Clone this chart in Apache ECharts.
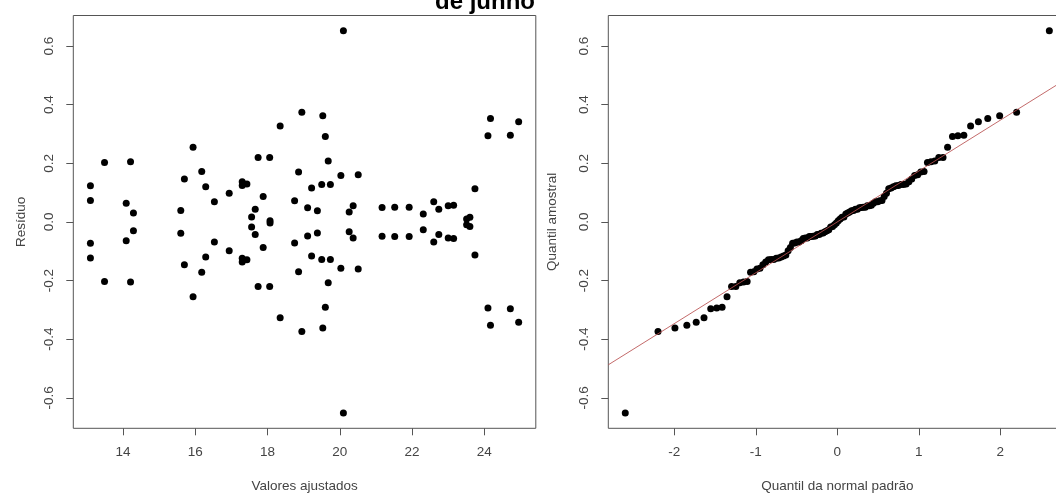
<!DOCTYPE html>
<html>
<head>
<meta charset="utf-8">
<script src="https://cdn.jsdelivr.net/npm/echarts@6/dist/echarts.min.js"></script>
<style>
  html, body { margin: 0; padding: 0; background: #fff; }
  #chart { width: 1056px; height: 493px; }
</style>
</head>
<body>
<div id="chart"></div>
<script>
// Fitted values and residuals of the model (paired observations share a fitted value)
const fitted = [
  13.10, 13.10, 13.10, 13.10, 13.49, 13.49, 14.09, 14.09, 14.21, 14.21,
  14.29, 14.29, 15.60, 15.60, 15.70, 15.70, 15.94, 15.94, 16.18, 16.18,
  16.29, 16.29, 16.53, 16.53, 16.94, 16.94, 17.30, 17.30, 17.30, 17.30,
  17.43, 17.43, 17.56, 17.56, 17.66, 17.66, 17.74, 17.74, 17.88, 17.88,
  18.06, 18.06, 18.07, 18.07, 18.35, 18.35, 18.75, 18.75, 18.86, 18.86,
  18.95, 18.95, 19.11, 19.11, 19.22, 19.22, 19.38, 19.38, 19.50, 19.50,
  19.53, 19.53, 19.60, 19.60, 19.68, 19.68, 19.74, 19.74, 20.03, 20.03,
  20.10, 20.10, 20.26, 20.26, 20.37, 20.37, 20.51, 20.51, 21.17, 21.17,
  21.52, 21.52, 21.92, 21.92, 22.31, 22.31, 22.60, 22.60, 22.74, 22.74,
  23.00, 23.00, 23.15, 23.15, 23.51, 23.51, 23.60, 23.60, 23.74, 23.74,
  24.10, 24.10, 24.17, 24.17, 24.72, 24.72, 24.95, 24.95
];
const residuals = [
  0.123, 0.073, -0.073, -0.123, 0.203, -0.203, 0.064, -0.064, 0.205, -0.205,
  0.030, -0.030, 0.039, -0.039, 0.146, -0.146, 0.255, -0.255, 0.172, -0.172,
  0.120, -0.120, 0.069, -0.069, 0.098, -0.098, 0.137, -0.137, 0.124, -0.124,
  0.129, -0.129, 0.017, -0.017, 0.043, -0.043, 0.220, -0.220, 0.087, -0.087,
  0.220, -0.220, 0.004, -0.004, 0.327, -0.327, 0.072, -0.072, 0.170, -0.170,
  0.374, -0.374, 0.048, -0.048, 0.116, -0.116, 0.038, -0.038, 0.128, -0.128,
  0.362, -0.362, 0.291, -0.291, 0.208, -0.208, 0.128, -0.128, 0.158, -0.158,
  0.652, -0.652, 0.034, -0.034, 0.055, -0.055, 0.161, -0.161, 0.049, -0.049,
  0.050, -0.050, 0.050, -0.050, 0.027, -0.027, 0.069, -0.069, 0.043, -0.043,
  0.055, -0.055, 0.057, -0.057, 0.010, -0.010, 0.016, -0.016, 0.113, -0.113,
  0.294, -0.294, 0.353, -0.353, 0.296, -0.296, 0.342, -0.342
];

// Tick labels
const fittedTicks = [14, 16, 18, 20, 22, 24];
const residTicks = [-0.6, -0.4, -0.2, 0.0, 0.2, 0.4, 0.6];
const normalTicks = [-2, -1, 0, 1, 2];

const titleText = 'de junho';
const xName1 = 'Valores ajustados';
const yName1 = 'Resíduo';
const xName2 = 'Quantil da normal padrão';
const yName2 = 'Quantil amostral';

// Inverse standard normal CDF (Acklam)
function qnorm(p) {
  const a = [-3.969683028665376e+01, 2.209460984245205e+02, -2.759285104469687e+02,
             1.383577518672690e+02, -3.066479806614716e+01, 2.506628277459239e+00];
  const b = [-5.447609879822406e+01, 1.615858368580409e+02, -1.556989798598866e+02,
             6.680131188771972e+01, -1.328068155288572e+01];
  const c = [-7.784894002430293e-03, -3.223964580411365e-01, -2.400758277161838e+00,
             -2.549732539343734e+00, 4.374664141464968e+00, 2.938163982698783e+00];
  const d = [7.784695709041462e-03, 3.224671290700398e-01, 2.445134137142996e+00,
             3.754408661907416e+00];
  const pl = 0.02425, ph = 1 - pl;
  let q, r;
  if (p < pl) {
    q = Math.sqrt(-2 * Math.log(p));
    return (((((c[0]*q+c[1])*q+c[2])*q+c[3])*q+c[4])*q+c[5]) /
           ((((d[0]*q+d[1])*q+d[2])*q+d[3])*q+1);
  }
  if (p <= ph) {
    q = p - 0.5; r = q * q;
    return (((((a[0]*r+a[1])*r+a[2])*r+a[3])*r+a[4])*r+a[5])*q /
           (((((b[0]*r+b[1])*r+b[2])*r+b[3])*r+b[4])*r+1);
  }
  q = Math.sqrt(-2 * Math.log(1 - p));
  return -(((((c[0]*q+c[1])*q+c[2])*q+c[3])*q+c[4])*q+c[5]) /
          ((((d[0]*q+d[1])*q+d[2])*q+d[3])*q+1);
}

// Sample quantile, type 7
function quantile(sorted, p) {
  const h = (sorted.length - 1) * p;
  const lo = Math.floor(h), hi = Math.ceil(h);
  return sorted[lo] + (h - lo) * (sorted[hi] - sorted[lo]);
}

// Axis range with 4% padding on each side
function padded(vals) {
  const lo = Math.min(...vals), hi = Math.max(...vals);
  const pad = 0.04 * (hi - lo);
  return [lo - pad, hi + pad];
}

// Normal Q-Q data
const n = residuals.length;
const aPP = n <= 10 ? 3 / 8 : 0.5;
const sortedRes = residuals.slice().sort((x, y) => x - y);
const theo = sortedRes.map((_, i) => qnorm((i + 1 - aPP) / (n + 1 - 2 * aPP)));
const qqData = sortedRes.map((v, i) => [theo[i], v]);

// Reference line through the first and third quartiles
const q1s = quantile(sortedRes, 0.25), q3s = quantile(sortedRes, 0.75);
const q1t = qnorm(0.25), q3t = qnorm(0.75);
const slope = (q3s - q1s) / (q3t - q1t);
const intercept = q1s - slope * q1t;

const xr1 = padded(fitted);
const yr = padded(residuals);
const xr2 = padded(theo);
const lineData = [[xr2[0], intercept + slope * xr2[0]], [xr2[1], intercept + slope * xr2[1]]];

const FONT = 'Liberation Sans, Arial, sans-serif';
const TEXT = '#444';
const FRAME = '#555';

function xAxisDef(grid, range, ticks, name) {
  return {
    type: 'value', gridIndex: grid, min: range[0], max: range[1],
    axisLine: { show: false, onZero: false },
    splitLine: { show: false },
    axisTick: { show: true, inside: false, length: 7, customValues: ticks,
                lineStyle: { color: FRAME, width: 1 } },
    axisLabel: { customValues: ticks, margin: 17, color: TEXT, fontSize: 13.5, fontFamily: FONT,
                 formatter: v => String(v) },
    name: name, nameLocation: 'middle', nameGap: 51,
    nameTextStyle: { color: TEXT, fontSize: 13.5, fontFamily: FONT }
  };
}
function yAxisDef(grid, range, ticks, name, gap) {
  return {
    type: 'value', gridIndex: grid, min: range[0], max: range[1],
    axisLine: { show: false, onZero: false },
    splitLine: { show: false },
    axisTick: { show: true, inside: false, length: 7, customValues: ticks,
                lineStyle: { color: FRAME, width: 1 } },
    axisLabel: { customValues: ticks, margin: 17, rotate: 90, color: TEXT, fontSize: 13.5,
                 fontFamily: FONT, formatter: v => v.toFixed(1) },
    name: name, nameLocation: 'middle', nameGap: gap, nameRotate: 90,
    nameTextStyle: { color: TEXT, fontSize: 13.5, fontFamily: FONT }
  };
}

const gridBase = { top: 15.5, height: 412.8, show: true, containLabel: false,
                   outerBoundsMode: 'none', borderColor: FRAME, borderWidth: 1,
                   backgroundColor: 'transparent' };

const chart = echarts.init(document.getElementById('chart'), null, { renderer: 'canvas' });
chart.setOption({
  animation: false,
  backgroundColor: '#fff',
  grid: [
    Object.assign({ left: 73.3, width: 462.5 }, gridBase),
    Object.assign({ left: 608.3, width: 458 }, gridBase)
  ],
  xAxis: [
    xAxisDef(0, xr1, fittedTicks, xName1),
    xAxisDef(1, xr2, normalTicks, xName2)
  ],
  yAxis: [
    yAxisDef(0, yr, residTicks, yName1, 45),
    yAxisDef(1, yr, residTicks, yName2, 49)
  ],
  graphic: [{
    type: 'text', x: 485, y: 14,
    style: { text: titleText, font: 'bold 24px ' + FONT, fill: '#000',
             textAlign: 'center', textVerticalAlign: 'bottom' }
  }],
  series: [
    {
      type: 'scatter', xAxisIndex: 0, yAxisIndex: 0,
      data: fitted.map((f, i) => [f, residuals[i]]),
      symbol: 'circle', symbolSize: 7,
      itemStyle: { color: '#000', opacity: 1 }, silent: true
    },
    {
      type: 'scatter', xAxisIndex: 1, yAxisIndex: 1,
      data: qqData, symbol: 'circle', symbolSize: 7,
      itemStyle: { color: '#000', opacity: 1 }, silent: true
    },
    {
      type: 'line', xAxisIndex: 1, yAxisIndex: 1, data: lineData,
      symbol: 'none', z: 5, silent: true,
      lineStyle: { color: '#b85050', width: 1, opacity: 0.85 }
    }
  ]
});
</script>
</body>
</html>
